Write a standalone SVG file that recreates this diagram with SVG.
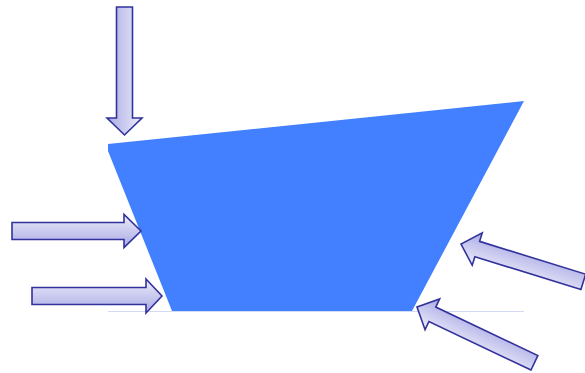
<svg xmlns="http://www.w3.org/2000/svg" xmlns:xlink="http://www.w3.org/1999/xlink" width="585" height="373" viewBox="0 0 585 373">
  <defs>
    <linearGradient id="arrowFill" x1="0" y1="0" x2="0" y2="1">
      <stop offset="0" stop-color="#ececfb"/>
      <stop offset="1" stop-color="#a9a9e4"/>
    </linearGradient>
    <path id="blockArrow" d="M -128,-8 L -17,-8 L -17,-17 L 0,0 L -17,17 L -17,8 L -128,8 Z"/>
  </defs>
  <style>
    .arrow { fill: url(#arrowFill); stroke: #32329c; stroke-width: 1.6; stroke-linejoin: miter; }
    .body { fill: #4380ff; stroke: none; }
    .base { stroke: #d3daf2; stroke-width: 1.2; fill: none; }
  </style>
  <rect width="585" height="373" fill="#ffffff"/>
  <g id="ground">
    <line class="base" x1="108" y1="311.5" x2="524" y2="311.5"/>
  </g>
  <g id="body">
    <polygon class="body" points="108,144 524,101 412,311 172,311 108,151"/>
  </g>
  <g id="connectors">
    <g id="arrow-top" transform="translate(124.5,135) rotate(90)">
      <path class="arrow" d="M -128,-8 L -17,-8 L -17,-17.5 L 0,0 L -17,17.5 L -17,8 L -128,8 Z"/>
    </g>
    <g id="arrow-left-1" transform="translate(141,231)">
      <path class="arrow" d="M -129,-8.5 L -17,-8.5 L -17,-16.5 L 0,0 L -17,16.5 L -17,8.5 L -129,8.5 Z"/>
    </g>
    <g id="arrow-left-2" transform="translate(162,296)">
      <path class="arrow" d="M -130,-8.5 L -16,-8.5 L -16,-17 L 0,0 L -16,17 L -16,8.5 L -130,8.5 Z"/>
    </g>
    <g id="arrow-right-1" transform="translate(461,244) rotate(197.2)">
      <path class="arrow" d="M -128,-8 L -17,-8 L -17,-17 L 0,0 L -17,17 L -17,8 L -128,8 Z"/>
    </g>
    <g id="arrow-right-2" transform="translate(417,307) rotate(205.4)">
      <path class="arrow" d="M -130,-8 L -17,-8 L -17,-17 L 0,0 L -17,17 L -17,8 L -130,8 Z"/>
    </g>
  </g>
</svg>
